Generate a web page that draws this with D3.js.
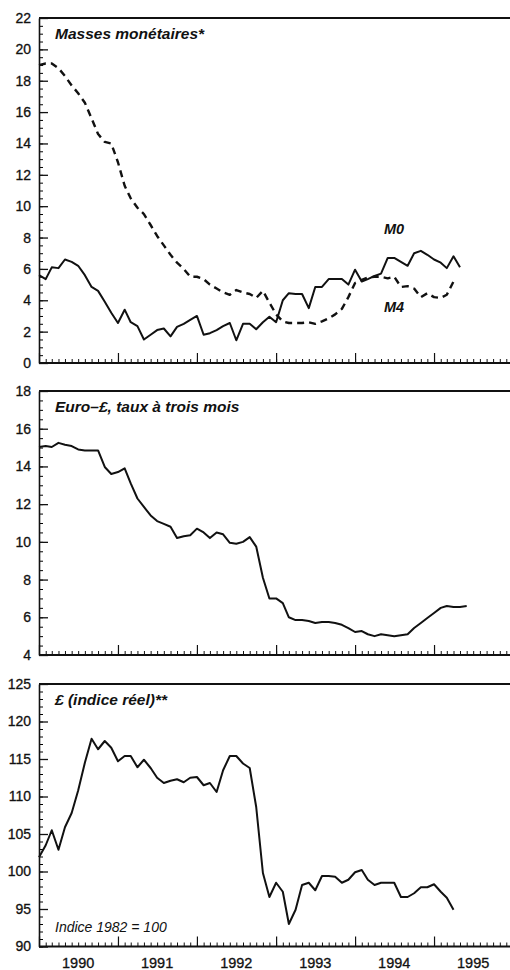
<!DOCTYPE html>
<html>
<head>
<meta charset="utf-8">
<script src="https://cdn.jsdelivr.net/npm/d3@7"></script>
<style>
  body { margin: 0; background: #fff; }
  text { font-family: "Liberation Sans", Arial, sans-serif; fill: #111; }
</style>
</head>
<body>
<div class="canvas"></div>
<script>
// monthly series, first value = Jan 1990
const startMonth = new Date(1990, 0, 1);
const years = [1990, 1991, 1992, 1993, 1994, 1995];

// Masses monétaires (% sur un an)
const m0 = [5.6, 5.35, 6.1, 6.05, 6.6, 6.45, 6.2, 5.6, 4.85, 4.6, 3.9, 3.2,
    2.55, 3.4, 2.6, 2.35, 1.5, 1.8, 2.1, 2.2, 1.7, 2.3, 2.5, 2.75,
    3.0, 1.8, 1.9, 2.1, 2.35, 2.55, 1.45, 2.5, 2.5, 2.15, 2.6, 2.95,
    2.6, 4.0, 4.45, 4.4, 4.4, 3.5, 4.85, 4.85, 5.35, 5.35, 5.35, 5.0,
    5.95, 5.2, 5.35, 5.55, 5.7, 6.7, 6.7, 6.45, 6.2, 7.0, 7.15, 6.9,
    6.6, 6.4, 6.05, 6.8, 6.1];
const m4 = [19.0, 19.1, 19.1, 18.8, 18.3, 17.7, 17.2, 16.6, 15.6, 14.6, 14.1, 14.0,
    12.8, 11.3, 10.5, 9.9, 9.5, 8.8, 8.1, 7.5, 6.9, 6.4, 6.0, 5.5,
    5.5, 5.35, 5.0, 4.75, 4.5, 4.35, 4.65, 4.5, 4.4, 4.15, 4.6, 3.85,
    3.1, 2.65, 2.55, 2.55, 2.55, 2.6, 2.5, 2.65, 2.85, 3.1, 3.45, 4.2,
    5.1, 5.3, 5.45, 5.5, 5.5, 5.4, 5.5, 4.85, 4.9, 4.75, 4.2, 4.45,
    4.2, 4.15, 4.35, 5.2];

// Euro-£, taux à trois mois
const euroRate = [15.03, 15.08, 15.03, 15.25, 15.15, 15.08, 14.9, 14.85, 14.85, 14.85, 13.97, 13.6,
    13.7, 13.9, 13.1, 12.3, 11.85, 11.4, 11.1, 10.95, 10.8, 10.2, 10.3, 10.35,
    10.7, 10.5, 10.2, 10.5, 10.4, 9.95, 9.9, 10.0, 10.25, 9.75, 8.1, 7.0,
    7.0, 6.75, 6.0, 5.85, 5.85, 5.8, 5.7, 5.75, 5.75, 5.7, 5.6, 5.43,
    5.22, 5.27, 5.1, 5.0, 5.1, 5.05, 5.0, 5.05, 5.1, 5.43, 5.7, 5.96,
    6.23, 6.5, 6.6, 6.55, 6.55, 6.6];

// £ indice réel (1982 = 100)
const realIndex = [101.9, 103.5, 105.5, 102.9, 105.9, 107.8, 110.8, 114.5, 117.7, 116.3, 117.4, 116.5,
    114.7, 115.4, 115.4, 113.9, 114.9, 113.8, 112.5, 111.8, 112.1, 112.3, 111.9, 112.5,
    112.6, 111.5, 111.8, 110.6, 113.5, 115.4, 115.4, 114.4, 113.8, 108.6, 99.8, 96.6,
    98.5, 97.3, 93.0, 94.9, 98.2, 98.5, 97.5, 99.4, 99.4, 99.3, 98.5, 98.9,
    99.9, 100.2, 98.9, 98.2, 98.5, 98.5, 98.5, 96.6, 96.6, 97.1, 97.9, 97.9,
    98.3, 97.3, 96.5, 94.9];

const width = 510, height = 970;
const left = 39, right = 510;

const svg = d3.select('.canvas').append('svg')
    .attr('width', width)
    .attr('height', height);

// time scale shared by the 3 panels
const x = d3.scaleTime()
    .domain([new Date(1990, 0, 1), new Date(1996, 0, 1)])
    .range([left, 513]);

const toPoints = vals => vals.map((v, i) => ({date: d3.timeMonth.offset(startMonth, i), value: v}));

const panels = [
    {top: 18, bottom: 363, domain: [0, 22], step: 2, minor: 0.5,
     title: 'Masses monétaires*',
     series: [{vals: m0, dash: null}, {vals: m4, dash: '7,5'}]},
    {top: 391, bottom: 655, domain: [4, 18], step: 2, minor: 0.5,
     title: 'Euro–£, taux à trois mois',
     series: [{vals: euroRate, dash: null}]},
    {top: 684, bottom: 946.5, domain: [90, 125], step: 5, minor: 1,
     title: '£ (indice réel)**',
     series: [{vals: realIndex, dash: null}]}
];

panels.forEach((p, k) => {
    const y = d3.scaleLinear().domain(p.domain).range([p.bottom, p.top]);
    const g = svg.append('g');

    // minor ticks left
    g.append('g')
        .attr('transform', `translate(${left},0)`)
        .call(d3.axisLeft(y)
            .tickValues(d3.range(p.domain[0], p.domain[1] + 0.001, p.minor))
            .tickSize(-4).tickFormat(''))
        .call(a => a.select('.domain').remove());

    // major ticks left + labels
    const yAxis = g.append('g')
        .attr('transform', `translate(${left},0)`)
        .call(d3.axisLeft(y)
            .tickValues(d3.range(p.domain[0], p.domain[1] + 0.001, p.step))
            .tickSizeInner(-9).tickSizeOuter(0).tickPadding(8));
    yAxis.select('.domain').attr('stroke-width', 1.6).attr('stroke', '#111');
    yAxis.selectAll('.tick line').attr('stroke-width', 1.3).attr('stroke', '#111');
    yAxis.selectAll('text')
        .attr('font-size', 14)
        .attr('font-family', '"Liberation Sans", Arial, sans-serif')
        .attr('fill', '#111')
        .attr('stroke', '#111')
        .attr('stroke-width', 0.3);

    // bottom: months and years
    g.append('g')
        .attr('transform', `translate(0,${p.bottom})`)
        .call(d3.axisBottom(x).ticks(d3.timeMonth.every(1)).tickSize(-4).tickFormat(''))
        .call(a => a.select('.domain').remove())
        .selectAll('.tick line').attr('stroke', '#111');
    g.append('g')
        .attr('transform', `translate(0,${p.bottom})`)
        .call(d3.axisBottom(x).ticks(d3.timeYear.every(1)).tickSize(-10).tickFormat(''))
        .call(a => a.select('.domain').remove())
        .selectAll('.tick line').attr('stroke', '#111').attr('stroke-width', 1.2);

    // frame lines top and bottom
    g.append('line')
        .attr('x1', left).attr('x2', right)
        .attr('y1', p.top).attr('y2', p.top)
        .attr('stroke', '#111').attr('stroke-width', 2);
    g.append('line')
        .attr('x1', left).attr('x2', right)
        .attr('y1', p.bottom).attr('y2', p.bottom)
        .attr('stroke', '#111').attr('stroke-width', 2);

    // series
    const line = d3.line()
        .x(d => x(d.date))
        .y(d => y(d.value));
    p.series.forEach(s => {
        g.append('path')
            .datum(toPoints(s.vals))
            .attr('d', line)
            .attr('fill', 'none')
            .attr('stroke', '#111')
            .attr('stroke-width', s.dash ? 2.4 : 2)
            .attr('stroke-linejoin', 'round')
            .attr('stroke-dasharray', s.dash);
    });

    // panel title
    g.append('text')
        .attr('x', 55)
        .attr('y', p.top + 21)
        .attr('font-size', 15.5)
        .attr('font-weight', 'bold')
        .attr('font-style', 'italic')
        .text(p.title);
});

// series labels, top panel
svg.append('text').attr('x', 384).attr('y', 234)
    .attr('font-size', 14.5).attr('font-weight', 'bold').attr('font-style', 'italic')
    .text('M0');
svg.append('text').attr('x', 384).attr('y', 312)
    .attr('font-size', 14.5).attr('font-weight', 'bold').attr('font-style', 'italic')
    .text('M4');

// base note, bottom panel
svg.append('text').attr('x', 55).attr('y', 932)
    .attr('font-size', 14).attr('font-style', 'italic')
    .text('Indice 1982 = 100');

// year labels
svg.append('g').selectAll('text')
    .data(years)
    .join('text')
    .attr('x', d => x(new Date(d, 6, 1)))
    .attr('y', 968)
    .attr('text-anchor', 'middle')
    .attr('font-size', 14.5)
    .attr('stroke', '#111')
    .attr('stroke-width', 0.3)
    .text(d => d);
</script>
</body>
</html>
